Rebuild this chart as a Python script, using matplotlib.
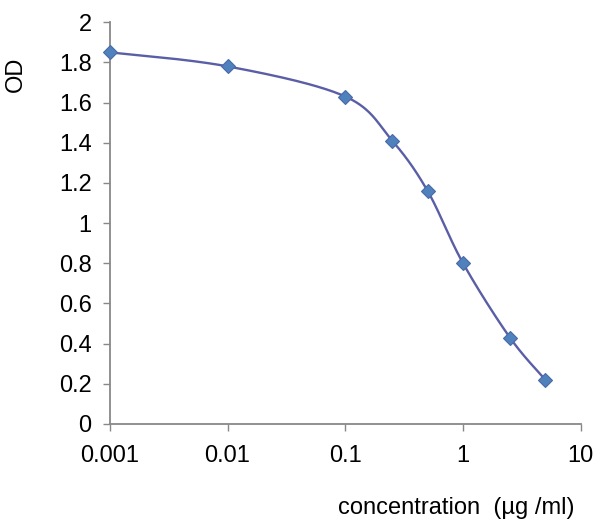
import matplotlib
matplotlib.use("Agg")
import matplotlib.pyplot as plt
import numpy as np

plt.rcParams['font.family'] = ['Liberation Sans', 'DejaVu Sans']

# data
conc = [0.001, 0.01, 0.1, 0.25, 0.5, 1.0, 2.5, 5.0]
od = [1.85, 1.78, 1.63, 1.41, 1.16, 0.80, 0.43, 0.22]

x_ticks = [0.001, 0.01, 0.1, 1, 10]
x_labels = ["0.001", "0.01", "0.1", "1", "10"]
y_ticks = [0, 0.2, 0.4, 0.6, 0.8, 1, 1.2, 1.4, 1.6, 1.8, 2]
y_labels = ["0", "0.2", "0.4", "0.6", "0.8", "1", "1.2", "1.4", "1.6", "1.8", "2"]


# smoothed line like a spreadsheet (Catmull-Rom through the points, in log x)
def smooth(xs, ys, n=40):
    px = np.log10(xs)
    py = np.array(ys)
    px = np.concatenate([[px[0]], px, [px[-1]]])
    py = np.concatenate([[py[0]], py, [py[-1]]])
    outx, outy = [], []
    for i in range(1, len(px) - 2):
        t = np.linspace(0, 1, n)
        for arr, out in ((px, outx), (py, outy)):
            p0, p1, p2, p3 = arr[i - 1], arr[i], arr[i + 1], arr[i + 2]
            out.extend(0.5 * (2 * p1 + (-p0 + p2) * t
                              + (2 * p0 - 5 * p1 + 4 * p2 - p3) * t ** 2
                              + (-p0 + 3 * p1 - 3 * p2 + p3) * t ** 3))
    return 10 ** np.array(outx), np.array(outy)


sx, sy = smooth(conc, od)

fig = plt.figure(figsize=(6, 5.28), dpi=100)
ax = fig.add_axes([0.183, 0.197, 0.785, 0.761])

ax.plot(sx, sy, color='#5a5ea6', linewidth=1.7, zorder=2)
ax.plot(conc, od, linestyle='none', marker='D', markersize=7.5,
        markerfacecolor='#4f81bd', markeredgecolor='#4a6aa8', markeredgewidth=0.8,
        zorder=3, clip_on=False)

ax.set_xscale('log')
ax.set_xlim(0.001, 10)
ax.set_ylim(0, 2)
ax.set_xticks(x_ticks)
ax.set_xticklabels(x_labels)
ax.set_yticks(y_ticks)
ax.set_yticklabels(y_labels)
ax.minorticks_off()

for s in ['top', 'right']:
    ax.spines[s].set_visible(False)
for s in ['left', 'bottom']:
    ax.spines[s].set_color('#888888')
    ax.spines[s].set_linewidth(1.3)
ax.tick_params(axis='both', colors='#888888', labelcolor='black', labelsize=17,
               length=5, width=1, direction='out')
ax.tick_params(axis='x', pad=10)
ax.tick_params(axis='y', pad=8)

fig.text(0.027, 0.86, "OD", rotation=90, fontsize=17, ha='center', va='center')
fig.text(0.76, 0.038, "concentration  (µg /ml)", fontsize=17, ha='center', va='center')

fig.savefig("out.png", dpi=100)
